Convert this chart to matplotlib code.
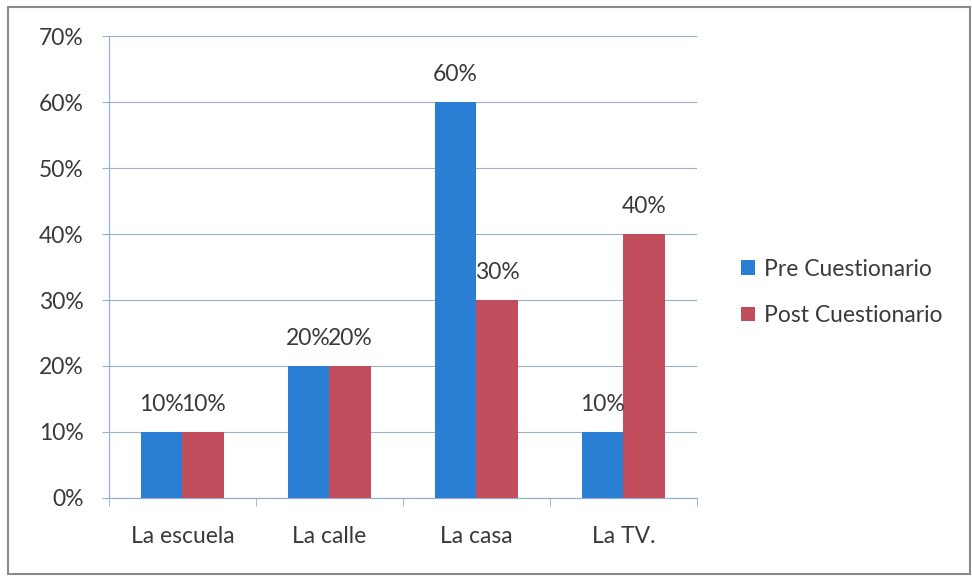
import numpy as np
import matplotlib.pyplot as plt
from matplotlib.patches import Rectangle

plt.rcParams['font.family'] = ['Lato', 'DejaVu Sans']

categorias = ['La escuela', 'La calle', 'La casa', 'La TV.']
series = ['Pre Cuestionario', 'Post Cuestionario']
pre = [10, 20, 60, 10]
post = [10, 20, 30, 40]
yticks = [0, 10, 20, 30, 40, 50, 60, 70]

azul = '#2a7fd4'
rojo = '#c24d5c'
rejilla = '#9aafc9'
texto = '#3a3a3a'
fs = 16.5

fig = plt.figure(figsize=(9.72, 5.8), dpi=100)
ax = fig.add_axes([0.1121, 0.1414, 0.6049, 0.7965])

x = np.arange(len(categorias))
w = 0.285
b1 = ax.bar(x - w / 2, pre, w, color=azul, label=series[0], zorder=3)
b2 = ax.bar(x + w / 2, post, w, color=rojo, label=series[1], zorder=3)

# etiquetas de valor encima de cada barra
for barras, vals in [(b1, pre), (b2, post)]:
    for r, v in zip(barras, vals):
        ax.annotate(f'{v}%', (r.get_x() + r.get_width() / 2, v),
                    xytext=(0, 12), textcoords='offset points',
                    ha='center', va='bottom', fontsize=fs, color=texto, zorder=4)

ax.set_xlim(-0.5, len(categorias) - 0.5)
ax.set_ylim(0, 70)
ax.set_yticks(yticks)
ax.set_yticklabels([f'{t}%' for t in yticks], fontsize=fs, color=texto)
ax.yaxis.grid(True, color=rejilla, linewidth=0.8, zorder=0)
ax.tick_params(axis='y', length=5, color=rejilla, pad=13)

ax.set_xticks(x)
ax.set_xticklabels(categorias, fontsize=fs, color=texto)
ax.set_xticks(np.arange(len(categorias) + 1) - 0.5, minor=True)
ax.tick_params(axis='x', which='major', length=0, pad=20)
ax.tick_params(axis='x', which='minor', length=6, color=rejilla)

for s in ['top', 'right']:
    ax.spines[s].set_visible(False)
for s in ['left', 'bottom']:
    ax.spines[s].set_color(rejilla)
    ax.spines[s].set_linewidth(0.9)

ax.legend(loc='center left', bbox_to_anchor=(1.04, 0.445), frameon=False,
          fontsize=fs, handlelength=0.6, handleheight=0.6,
          handletextpad=0.4, labelspacing=1.1, labelcolor=texto)

# marco exterior del gráfico
fig.patches.append(Rectangle((0.008, 0.01), 0.99, 0.978, transform=fig.transFigure,
                             fill=False, edgecolor='#8a8a8a', linewidth=1.5))

fig.savefig('out.png', dpi=100)
